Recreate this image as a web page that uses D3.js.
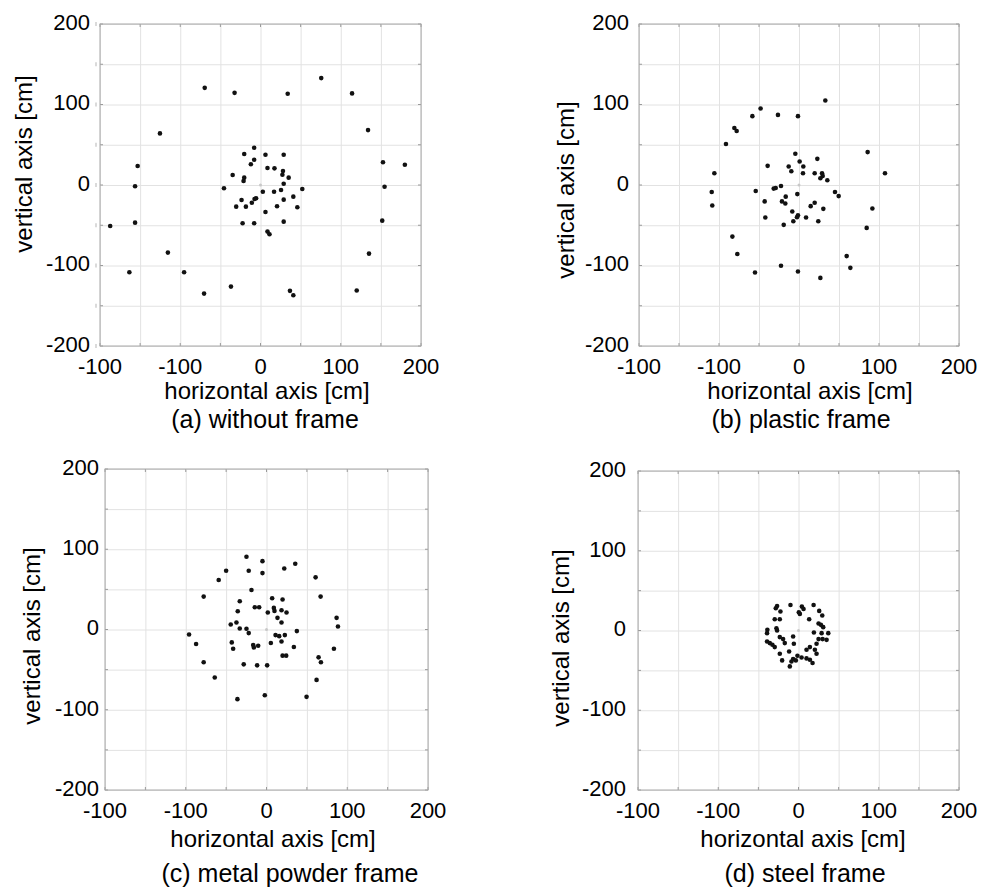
<!DOCTYPE html>
<html>
<head>
<meta charset="utf-8">
<script src="https://cdn.jsdelivr.net/npm/d3@7"></script>
<style>
  body { margin: 0; background: #fff; }
  svg text { font-family: "Liberation Sans", Arial, sans-serif; fill: #000; }
</style>
</head>
<body>
<svg id="chart" width="986" height="889"></svg>
<script>
// tick values and the labels printed beside them (left x label reads -100 in the original)
const xTickValues = [-200, -100, 0, 100, 200];
const xTickLabels = ["-100", "-100", "0", "100", "200"];
const yTickValues = [-200, -100, 0, 100, 200];
const yTickLabels = ["-200", "-100", "0", "100", "200"];
const gridStep = 50;

const xTitle = "horizontal axis [cm]";
const yTitle = "vertical axis [cm]";
const captions = ["(a) without frame", "(b) plastic frame", "(c) metal powder frame", "(d) steel frame"];

// measured positions [horizontal, vertical] in cm
const pointsA = [
  [-69.5,120.7],[-32.3,114.5],[33.9,113.3],[75.7,132.8],[-125.3,64.1],[-153.1,23.6],[-156.3,-1.6],
  [-156.3,-46.8],[-187.3,-50.9],[-115.4,-84],[-163.4,-108.3],[-95.2,-108.3],[-70.3,-134.9],
  [-36.8,-126.2],[36.7,-131.5],[40.9,-136.9],
  [-7.9,46.3],[-20.3,38.5],[6.2,37.6],[28.9,37.6],[-7.9,31.4],[-12,25.7],[8.7,21.1],[17.4,20.7],
  [28,17.4],[27.3,12.8],[-34.7,12.4],[35.1,9.1],[-20.3,9.1],[-21.1,5],[28.9,1.6],[-45.5,-4.1],
  [52.1,-5],[25.6,-6.2],[2.9,-8.3],[16.9,-8.3],[40.9,-14.5],[-5.5,-16.5],[-7.4,-17.4],[28.9,-18.2],
  [-23.6,-18.6],[-10.8,-22],[-30.3,-26.9],[-18.2,-26.9],[20.6,-26.4],[45.9,-27.7],[6.2,-33.5],
  [28.9,-45.5],[-22.3,-47.5],[-7.9,-47.5],[8.7,-57.9],[11.2,-61.2],
  [114.1,113.8],[134,68.2],[152.6,28.2],[179.9,25.2],[154.6,-2.1],[151.7,-44.3],[135.2,-85.2],[119.9,-131.1]
];
const pointsB = [
  [32.9,105],[-48,95],[-58.3,85.5],[-26.3,87.1],[-1.3,85.5],[-80.8,70.9],[-77.9,67.1],[-91.3,50.9],
  [85.8,40.9],[-4.6,38.8],[22.9,32.5],[0.8,29.2],[-39.2,23.8],[-12.9,23],[5.4,23],[-9.6,17.1],
  [5,14.6],[19.6,14.6],[28.8,14.6],[107.5,14.6],[-105.8,14.6],[29.6,11.3],[26.7,8.4],[35.4,5.9],
  [-22.5,-1.3],[-29.1,-3.8],[-31.6,-4.5],[-54.1,-7.5],[-109.1,-8.7],[45,-8.7],[-2.1,-11.3],
  [49.6,-13.8],[-16.6,-14.5],[-42.9,-20.4],[-21.3,-20.4],[-17.1,-22.9],[19.6,-22],[14.6,-26.3],
  [-108.4,-25.4],[91.7,-29.1],[30.4,-29.6],[-8.4,-32.9],[-1.3,-37.5],[-2.5,-40],[-42.1,-40.4],
  [8.8,-40.4],[-7.1,-45],[24.1,-45],[-19.1,-49.5],[84.6,-53.3],[-83.3,-64.1],[-77.1,-85.8],
  [59.6,-88.3],[64.2,-102.9],[-22.5,-100.4],[-55,-108.7],[-1.3,-107.5],[26.7,-115.4]
];
const pointsC = [
  [-24.8,90.6],[-5,85.2],[35.6,81.9],[-50,73.2],[-22,73.2],[22,76.1],[-5,70.3],[-59.2,61.7],
  [60.8,65],[-18.6,49.3],[-77.8,41],[67,41],[7,39],[19.9,37.3],[-33.1,35.2],[-14.5,27.8],
  [-9.1,27.8],[9.1,26.9],[-35.6,22.8],[1.6,21.1],[9.9,23.2],[18.6,24],[24.8,21.1],[13.6,14.5],
  [86.8,14.5],[-37.2,8.7],[18.6,8.7],[-44.3,6.2],[88.5,3.7],[-33.1,1.2],[-24.8,0.9],[37.6,-2],
  [-22,-4.5],[-95.9,-6.2],[11.2,-7],[15.7,-8.3],[22.7,-7],[18.6,-14.9],[-43,-16.1],[5.4,-16.9],
  [-87.2,-18.1],[-16.5,-19.4],[-10.3,-20.2],[-15.7,-22.3],[33.9,-21.8],[-41.3,-23.9],[83.5,-23.9],
  [19.9,-32.6],[24.4,-32.6],[64.5,-34.7],[67.4,-40.9],[-77.8,-40.9],[-28.2,-43.4],[-11.6,-44.7],
  [0.8,-44.7],[-64.1,-59.9],[62,-62.8],[-2.1,-81.9],[49.6,-83.9],[-36,-86.8]
];
const pointsD = [
  [-26.7,30.8],[-28.3,27.9],[-10,32],[4.2,30],[6.3,27],[18.8,32],[-22.5,23.8],[0.4,22.9],[1.7,20.8],
  [25.8,24.6],[29.6,18.8],[-29.6,14.2],[-23.3,14.2],[13.3,14.2],[25,8.8],[27.9,7.1],[30.8,4.2],
  [-27.5,2.9],[-26.7,0],[-38.8,0.8],[-39.2,-3.3],[19.2,-2.5],[28.8,-3.3],[37.1,-3.3],[-23.3,-8.3],
  [-19.2,-10.8],[-6.7,-7.5],[25,-10.8],[30,-10.8],[35,-11.7],[-39.2,-13.8],[-35.8,-15.8],
  [-32.5,-17.9],[-17.1,-15.8],[-5.8,-16.7],[22.5,-16.7],[-29.6,-20.8],[14.2,-20.8],[-11.7,-26.3],
  [10,-24.2],[20.4,-24.2],[-23.3,-29.2],[22.5,-29.2],[-1.3,-31.7],[3.8,-33.8],[10,-35],[14.2,-36.7],
  [-6.7,-35.8],[-8.8,-38.8],[-3.3,-37.5],[-20.4,-37.5],[17.5,-40.8],[-10.8,-45]
];

// panel boxes and text placement
const panels = [
  { pts: pointsA, x0: 100, y0: 24,  x1: 421, y1: 346, yLab: 10, yT: [32, 164],  xT: 267, xTy: 399, cap: 265, capY: 428, scanTicks: true },
  { pts: pointsB, x0: 639, y0: 24,  x1: 959, y1: 346, yLab: 10, yT: [574, 190], xT: 810, xTy: 399, cap: 801, capY: 428 },
  { pts: pointsC, x0: 105, y0: 469, x1: 428, y1: 790, yLab: 6,  yT: [40, 636],  xT: 273, xTy: 847, cap: 290, capY: 882 },
  { pts: pointsD, x0: 638, y0: 471, x1: 959, y1: 790, yLab: 12, yT: [569, 638], xT: 803, xTy: 847, cap: 805, capY: 882 }
];

const svg = d3.select("#chart");
const gridValues = d3.range(-200, 201, gridStep);

panels.forEach((p, i) => {
  const w = p.x1 - p.x0, h = p.y1 - p.y0;
  const x = d3.scaleLinear().domain([-200, 200]).range([0, w]);
  const y = d3.scaleLinear().domain([-200, 200]).range([h, 0]);

  const g = svg.append("g").attr("transform", `translate(${p.x0},${p.y0})`);

  // grid
  g.append("g").attr("class", "grid")
    .call(d3.axisBottom(x).tickValues(gridValues).tickSize(h).tickFormat(""))
    .call(a => a.select(".domain").remove())
    .call(a => a.selectAll("line").attr("stroke", "#e2e2e2"));
  g.append("g").attr("class", "grid")
    .call(d3.axisRight(y).tickValues(gridValues).tickSize(w).tickFormat(""))
    .call(a => a.select(".domain").remove())
    .call(a => a.selectAll("line").attr("stroke", "#e2e2e2"));

  // small inward ticks on all sides
  const tk = g.append("g").attr("stroke", "#9a9a9a");
  gridValues.forEach(v => {
    tk.append("line").attr("x1", x(v)).attr("x2", x(v)).attr("y1", h).attr("y2", h - 3);
    tk.append("line").attr("x1", x(v)).attr("x2", x(v)).attr("y1", 0).attr("y2", 3);
    tk.append("line").attr("y1", y(v)).attr("y2", y(v)).attr("x1", 0).attr("x2", 3);
    tk.append("line").attr("y1", y(v)).attr("y2", y(v)).attr("x1", w).attr("x2", w - 3);
  });
  if (p.scanTicks) {
    gridValues.forEach(v => {
      g.append("line").attr("x1", -4).attr("x2", -4)
        .attr("y1", y(v) - 2).attr("y2", y(v) + 2)
        .attr("stroke", "#b5b5b5").attr("stroke-width", 1);
    });
  }

  g.append("rect").attr("width", w).attr("height", h)
    .attr("fill", "none").attr("stroke", "#a8a8a8").attr("stroke-width", 1);

  // origin marker
  g.append("circle").attr("cx", x(0)).attr("cy", y(0)).attr("r", 1.5).attr("fill", "#c8c8c8");

  // points
  g.selectAll("circle.pt").data(p.pts).join("circle")
    .attr("class", "pt")
    .attr("cx", d => x(d[0])).attr("cy", d => y(d[1]))
    .attr("r", 2.3).attr("fill", "#111");

  // tick labels
  g.append("g").selectAll("text").data(xTickValues).join("text")
    .attr("x", d => x(d)).attr("y", h + 28)
    .attr("text-anchor", "middle").attr("font-size", 22)
    .text((d, k) => xTickLabels[k]);
  g.append("g").selectAll("text").data(yTickValues).join("text")
    .attr("x", -p.yLab).attr("y", d => y(d)).attr("dy", "0.27em")
    .attr("text-anchor", "end").attr("font-size", 22)
    .text((d, k) => yTickLabels[k]);

  // axis titles and caption
  svg.append("text").attr("x", p.xT).attr("y", p.xTy)
    .attr("text-anchor", "middle").attr("font-size", 24).text(xTitle);
  svg.append("text")
    .attr("transform", `translate(${p.yT[0]},${p.yT[1]}) rotate(-90)`)
    .attr("text-anchor", "middle").attr("font-size", 24).text(yTitle);
  svg.append("text").attr("x", p.cap).attr("y", p.capY)
    .attr("text-anchor", "middle").attr("font-size", 25).text(captions[i]);
});
</script>
</body>
</html>
